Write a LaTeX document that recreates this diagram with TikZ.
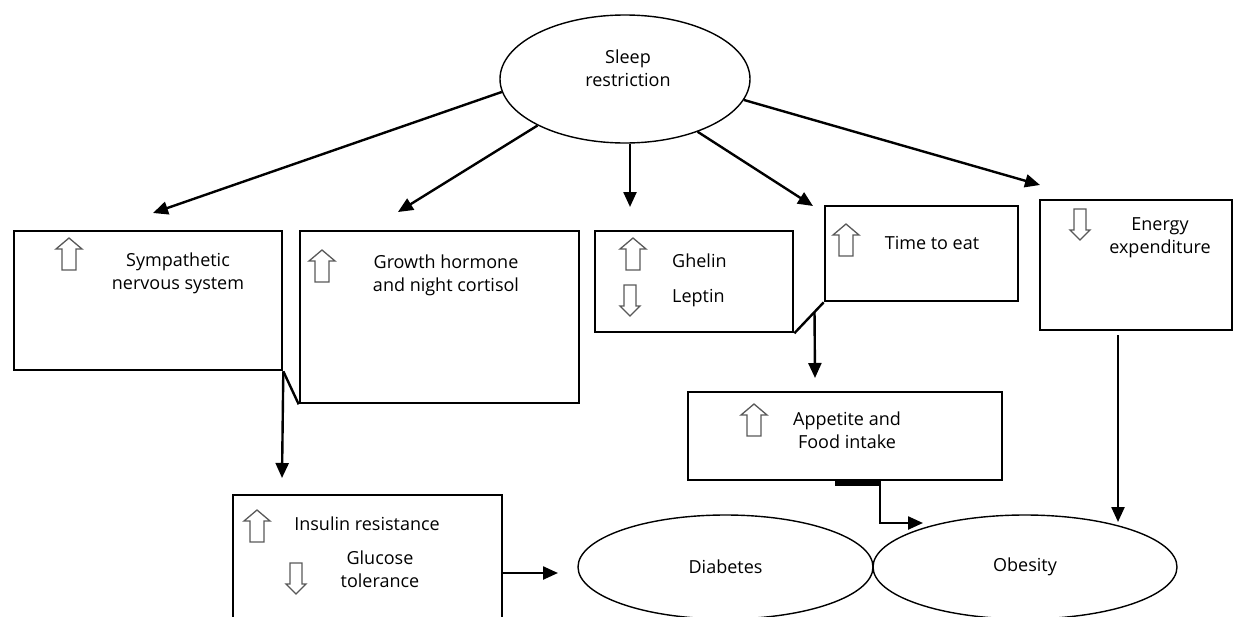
\documentclass[tikz,border=0pt]{standalone}
\usepackage{fontspec}
\setmainfont{Open Sans}
\usetikzlibrary{shapes.geometric,arrows.meta,calc}
\begin{document}
\begin{tikzpicture}[x=1pt,y=-1pt,
  box/.style={draw, line width=2.6pt, rectangle, inner sep=0pt},
  oval/.style={draw, ellipse, line width=1.4pt, inner sep=0pt, font=\fontsize{18}{23}\selectfont},
  lbl/.style={font=\fontsize{18}{23}\selectfont, align=center, inner sep=0pt},
  arr/.style={line width=2.4pt, -{Triangle[length=15pt,width=13pt]}},
  ln/.style={line width=2.4pt},
  icon/.style={draw=black!65, line width=1.3pt, fill=white, line join=miter},
  pics/uparr/.style={code={\draw[icon] (0,-16) -- (13,-5) -- (7,-5) -- (7,16) -- (-7,16) -- (-7,-5) -- (-13,-5) -- cycle;}},
  pics/dnarr/.style={code={\draw[icon] (0,16) -- (10,6) -- (6,6) -- (6,-15) -- (-6,-15) -- (-6,6) -- (-10,6) -- cycle;}},
]
\path[use as bounding box] (0,0) rectangle (1234,616);
\clip (0,0) rectangle (1234,616);

% ellipses
\node[oval, minimum width=250pt, minimum height=128pt] (sleep) at (625,79) {};
\node[lbl] (sleept) at (628,68) {Sleep\\restriction};
\node[oval, minimum width=295pt, minimum height=104pt] (diab) at (725.5,567) {Diabetes};
\node[oval, minimum width=304pt, minimum height=104pt] (obes) at (1025,567) {Obesity};

% boxes
\node[box, minimum width=268pt, minimum height=139pt] (sym) at (148,300.5) {};
\node[box, minimum width=279pt, minimum height=172pt] (gro) at (439.5,317) {};
\node[box, minimum width=198pt, minimum height=101pt] (ghe) at (694,281.5) {};
\node[box, minimum width=193pt, minimum height=95pt] (tim) at (921.5,253.5) {};
\node[box, minimum width=192pt, minimum height=130pt] (ene) at (1136,265) {};
\node[box, minimum width=314pt, minimum height=88pt] (app) at (845,436) {};
\node[box, minimum width=269pt, minimum height=140pt] (ins) at (367.5,565) {};

% texts
\node[lbl] (symt) at (178,273) {Sympathetic\\nervous system};
\node[lbl] (grot) at (446,275) {Growth hormone\\and night cortisol};
\node[lbl, anchor=west] (ghet1) at (672,261) {Ghelin};
\node[lbl, anchor=west] (ghet2) at (672,298) {Leptin};
\node[lbl] (timt) at (932,243) {Time to eat};
\node[lbl] (enet) at (1160,238) {Energy\\expenditure};
\node[lbl] (appt) at (847,430) {Appetite and\\Food intake};
\node[lbl] (inst1) at (367,524) {Insulin resistance};
\node[lbl] (inst2) at (380,569) {Glucose\\tolerance};

% icons
\pic at (69,254) {uparr};
\pic at (322,266) {uparr};
\pic at (633,254) {uparr};
\pic at (630,300) {dnarr};
\pic at (846,240) {uparr};
\pic at (1080,224) {dnarr};
\pic at (754,420) {uparr};
\pic at (257,526) {uparr};
\pic at (296,578) {dnarr};

% connectors from sleep restriction
\coordinate (t1) at (153,213);
\coordinate (t2) at (398,212);
\coordinate (t3) at (630,207);
\coordinate (t4) at (813,206);
\coordinate (t5) at (1040,185);
\draw[arr] (sleep.186.4) -- (t1);
\draw[arr] (sleep.208) -- (t2);
\draw[arr] (sleep.south -| t3) -- (t3);
\draw[arr] (sleep.324.8) -- (t4);
\draw[arr] (sleep.350) -- (t5);

% lower connectors
\coordinate (t6) at (282,478);
\draw[ln] (sym.south east) -- (gro.south west);
\draw[arr] (sym.south east) -- (t6);

\coordinate (t7) at (815,378);
\draw[ln] (ghe.south east) -- (tim.south west);
\draw[arr] ($(ghe.south east)!0.6875!(tim.south west)$) -- (t7);

\coordinate (c8) at (880,523);
\coordinate (t8) at (923,523);
\draw[line width=4.5pt] ($(app.south)+(-10,2)$) -- ($(app.south)+(35,2)$);
\draw[arr] (app.south -| c8) -- (c8) -- (t8);

\coordinate (t9) at (1118,522);
\draw[arr] ($(ene.south -| t9)+(0,4)$) -- (t9);

\coordinate (t10) at (558,573);
\draw[arr] (ins.east |- t10) -- (t10);
\end{tikzpicture}
\end{document}
